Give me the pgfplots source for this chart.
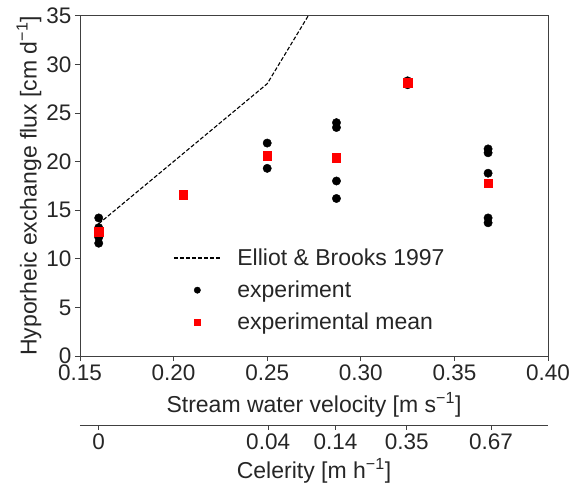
\documentclass[border=0pt]{standalone}
\usepackage{fontspec}
\setmainfont{Liberation Sans}
\usepackage{pgfplots}
\pgfplotsset{compat=1.18}
\begin{document}
\begin{tikzpicture}[font=\fontsize{23}{27}\selectfont, text=black!85]
\begin{axis}[
  scale only axis,
  width=468pt, height=340.3pt,
  xmin=0.15, xmax=0.40, ymin=0, ymax=35,
  xtick={0.15,0.20,0.25,0.30,0.35,0.40},
  xticklabels={0.15,0.20,0.25,0.30,0.35,0.40},
  ytick={0,5,...,35},
  tick align=outside, tick pos=left,
  major tick length=5pt,
  tick label style={font=\fontsize{22.5}{27}\selectfont},
  /pgf/number format/assume math mode=true,
  axis line style={black!75, line width=0.8pt},
  tick style={black!75, line width=0.8pt},
  xlabel={Stream water velocity [m s\textsuperscript{−1}]},
  xlabel style={at={(axis description cs:0.5,0)}, anchor=center, yshift=-48.5pt},
  ylabel={Hyporheic exchange flux [cm d\textsuperscript{−1}]},
  ylabel style={at={(axis description cs:0,0.5)}, anchor=center, yshift=51pt},
  legend cell align=left,
  legend style={at={(0.1925,0.327)}, anchor=north west, draw=none, fill=none,
    font=\fontsize{23}{27}\selectfont, row sep=10pt,
    /tikz/every odd column/.append style={column sep=14pt}},
]
\addplot[black, line width=1.1pt, dash pattern=on 4pt off 2pt,
  legend image code/.code={\draw[black, line width=1.1pt, dash pattern=on 4pt off 2pt] (0pt,0pt) -- (47pt,0pt);}]
  coordinates {(0.16,13.6) (0.25,28.0) (0.287,39.8)};
\addplot[only marks, mark=*, mark size=4.2pt, black,
  legend image code/.code={\fill[black] (23.5pt,0pt) circle (3.2pt);}]
  coordinates {
  (0.16,14.2) (0.16,13.2) (0.16,12.2) (0.16,11.6)
  (0.25,21.9) (0.25,19.3)
  (0.287,24.0) (0.287,23.5) (0.287,18.0) (0.287,16.2)
  (0.325,28.3) (0.325,27.9)
  (0.368,21.3) (0.368,20.9) (0.368,18.8) (0.368,14.2) (0.368,13.7)
};
\addplot[only marks, mark=square*, mark size=4.2pt, red,
  legend image code/.code={\fill[red] (20.3pt,-3.2pt) rectangle (26.7pt,3.2pt);}]
  coordinates {
  (0.16,12.8) (0.205,16.6) (0.25,20.6) (0.287,20.4) (0.325,28.1) (0.368,17.8)
};
\legend{Elliot \& Brooks 1997, experiment, experimental mean}
\end{axis}
\begin{axis}[
  at={(0pt,-69pt)},
  scale only axis,
  width=468pt, height=1pt,
  xmin=0.15, xmax=0.40, ymin=0, ymax=1,
  axis x line=bottom, hide y axis,
  x axis line style={-},
  every outer x axis line/.append style={-},
  axis line style={black!75, line width=0.8pt},
  tick style={black!75, line width=0.8pt},
  tick align=outside, major tick length=5pt,
  tick label style={font=\fontsize{22.5}{27}\selectfont},
  xtick={0.16,0.2505,0.2865,0.3245,0.3695},
  xticklabels={0,0.04,0.14,0.35,0.67},
  xlabel={Celerity [m h\textsuperscript{−1}]},
  xlabel style={at={(axis description cs:0.5,0)}, anchor=center, yshift=-46pt},
]
\end{axis}
\pgfresetboundingbox
\path[use as bounding box] (-80pt,-130pt) rectangle (491pt,356pt);
\end{tikzpicture}
\end{document}
